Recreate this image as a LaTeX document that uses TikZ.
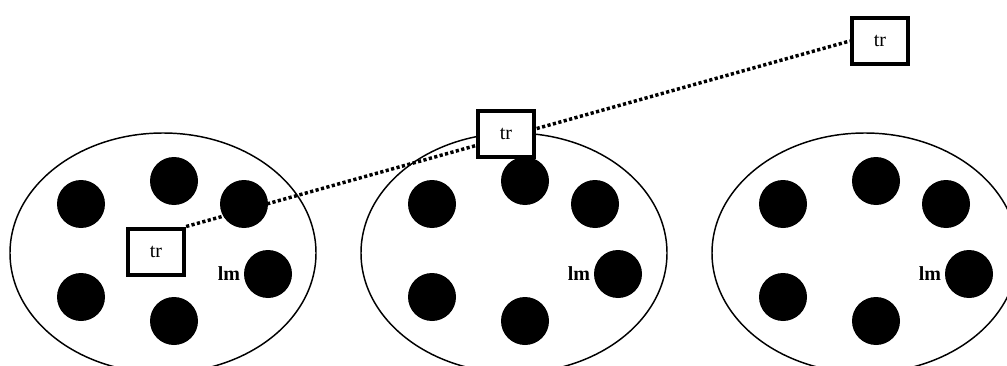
\documentclass[tikz,border=0pt]{standalone}
\usepackage{fontspec}
\setmainfont{Liberation Serif}
\usetikzlibrary{positioning, shapes.geometric, backgrounds}

\begin{document}
\begin{tikzpicture}[
    x=0.75pt, y=0.75pt,
    every node/.style={font=\fontsize{15}{18}\selectfont},
    region/.style={ellipse, draw, line width=1.1pt, minimum width=229.5pt, minimum height=180pt, inner sep=0pt},
    blob/.style={circle, fill=black, minimum size=36pt, inner sep=0pt},
    trbox/.style={rectangle, draw, line width=3.2pt, fill=white, minimum width=42pt, minimum height=35pt},
    lmtext/.style={font=\bfseries\fontsize{15}{18}\selectfont, inner sep=1.5pt},
    link/.style={line width=2.6pt, dash pattern=on 2.4pt off 1.8pt}
]
\clip (0,0) rectangle (1007,365);

% three clusters
\node[region] (e1) at (163,112) {};
\node[region] (e2) at (514,112) {};
\node[region] (e3) at (865,112) {};

% landmarks, cluster 1
\node[blob] (d11) at (81,161) {};
\node[blob] (d12) at (174,184) {};
\node[blob] (d13) at (244,161) {};
\node[blob] (d14) at (81,68) {};
\node[blob] (d15) at (174,44) {};
\node[blob] (d16) at (268,91) {};
% landmarks, cluster 2
\node[blob] (d21) at (432,161) {};
\node[blob] (d22) at (525,184) {};
\node[blob] (d23) at (595,161) {};
\node[blob] (d24) at (432,68) {};
\node[blob] (d25) at (525,44) {};
\node[blob] (d26) at (618,91) {};
% landmarks, cluster 3
\node[blob] (d31) at (783,161) {};
\node[blob] (d32) at (876,184) {};
\node[blob] (d33) at (946,161) {};
\node[blob] (d34) at (783,68) {};
\node[blob] (d35) at (876,44) {};
\node[blob] (d36) at (969,91) {};

\node[lmtext, left=1pt of d16] (lm1) {lm};
\node[lmtext, left=1pt of d26] (lm2) {lm};
\node[lmtext, left=1pt of d36] (lm3) {lm};

% trajectory
\node[trbox] (tr1) at (156,113) {tr};
\node[trbox] (tr3) at (880,324) {tr};
\node[trbox] (tr2) at (506,231) {tr};

\begin{scope}[on background layer]
\draw[link] (tr1.north east) -- (tr3.west);
\end{scope}
\end{tikzpicture}
\end{document}
